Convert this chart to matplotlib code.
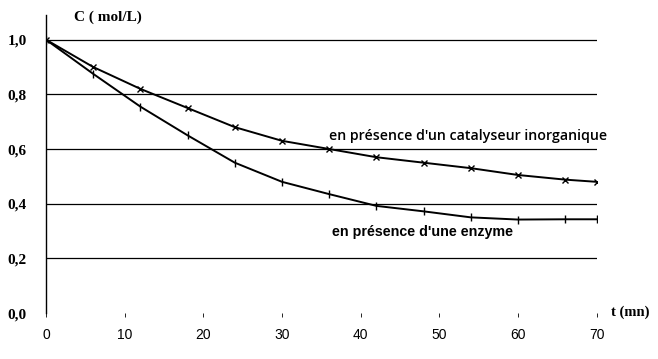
import matplotlib
matplotlib.use('Agg')
import matplotlib.pyplot as plt

# données
t = [0, 6, 12, 18, 24, 30, 36, 42, 48, 54, 60, 66, 70]
c_inorg = [1.0, 0.90, 0.82, 0.75, 0.68, 0.63, 0.60, 0.57, 0.55, 0.53, 0.505, 0.488, 0.48]
c_enzyme = [1.0, 0.875, 0.755, 0.65, 0.55, 0.48, 0.435, 0.392, 0.372, 0.35, 0.342, 0.343, 0.343]
yticks = [0.0, 0.2, 0.4, 0.6, 0.8, 1.0]
ytick_labels = ['0,0', '0,2', '0,4', '0,6', '0,8', '1,0']
xticks = [0, 10, 20, 30, 40, 50, 60, 70]

fig = plt.figure(figsize=(6.58, 3.59), dpi=100)
ax = fig.add_axes([0.0699, 0.128, 0.837, 0.830])

# grille horizontale
for y in yticks[1:]:
    ax.plot([0, 70], [y, y], color='black', lw=0.9)
ax.plot([0, 70], [0, 0], color='black', lw=0.6, ls=(0, (2, 1)))

ax.plot(t, c_inorg, color='black', lw=1.4, marker='x', ms=4, mew=1.0)
ax.plot(t, c_enzyme, color='black', lw=1.4, marker='|', ms=6, mew=1.0)

ax.text(36.0, 0.648, "en présence d'un catalyseur inorganique", fontsize=10.2,
        family='Open Sans', fontweight='semibold', ha='left', va='center')
ax.text(36.3, 0.296, "en présence d'une enzyme", fontsize=10.3,
        family='Liberation Sans', fontweight='bold', ha='left', va='center')

ax.set_xlim(0, 70)
ax.set_ylim(0, 1.09)
for s in ['top', 'right', 'bottom']:
    ax.spines[s].set_visible(False)
ax.spines['left'].set_linewidth(1.0)

ax.set_yticks(yticks)
ax.set_yticklabels(ytick_labels, family='Liberation Serif', fontweight='bold', fontsize=11)
ax.set_xticks(xticks)
ax.set_xticklabels([str(v) for v in xticks], family='Liberation Sans', fontsize=10)
ax.tick_params(axis='y', length=0, pad=14)
ax.tick_params(axis='x', length=3, width=0.6, pad=8)

fig.text(74 / 658, 1 - 17 / 359, 'C ( mol/L)', family='Liberation Serif', fontweight='bold',
         fontsize=11, ha='left', va='center')
fig.text(611 / 658, 1 - 312 / 359, 't (mn)', family='Liberation Serif', fontweight='bold',
         fontsize=10.5, ha='left', va='center')

fig.savefig('out.png', dpi=100)
